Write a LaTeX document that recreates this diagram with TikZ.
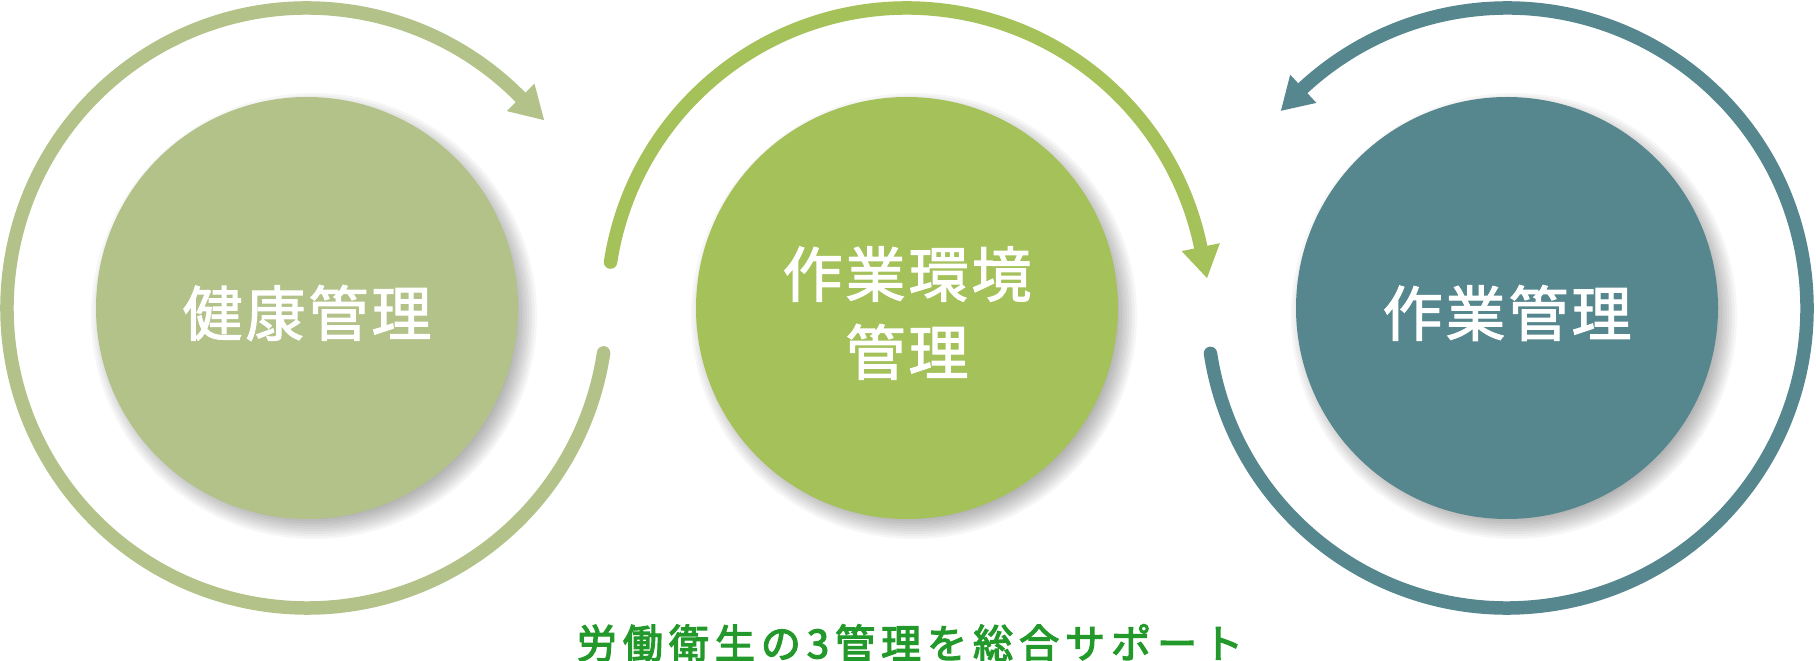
\documentclass[tikz,border=0pt]{standalone}
\usepackage{fontspec}
\newfontfamily\jpfont[LetterSpace=5,FakeBold=1.8]{Noto Sans CJK JP}
\newfontfamily\jpcap[LetterSpace=15,FakeBold=3.2]{Noto Sans CJK JP}
\definecolor{cA}{HTML}{B2C288}
\definecolor{cB}{HTML}{A5C159}
\definecolor{cC}{HTML}{56878E}
\definecolor{cT}{HTML}{22992A}
\begin{document}
\begin{tikzpicture}[x=1pt,y=1pt,
  ring/.style={line width=13.5pt, line cap=round},
  disc/.style={circle, minimum size=422pt, inner sep=0pt},
  lbl/.style={text=white, inner sep=0pt, align=center,
    font=\jpfont\fontsize{60}{78}\selectfont},
  capt/.style={text=cT, font=\jpcap\fontsize{40}{44}\selectfont}]
\useasboundingbox (0,0) rectangle (1816,661);
\fill[white] (0,0) rectangle (1816,661);
% soft shadows
\foreach \cx in {307,907,1507}{
  \foreach \k in {0,...,8}{
    \fill[black,opacity=0.035] (\cx+7,345) circle ({203+\k*2.5});
  }
}
\node[disc, fill=cA] (health) at (307,353) {};
\node[disc, fill=cB] (env) at (907,353) {};
\node[disc, fill=cC] (work) at (1507,353) {};
\node[lbl] (healthT) at ([yshift=-5pt]health.center) {健康管理};
\node[lbl] (envT) at ([yshift=-5pt]env.center) {作業環境\\管理};
\node[lbl] (workT) at ([yshift=-5pt]work.center) {作業管理};
% cycle arcs with arrowheads
\draw[ring, cA] (health.center) ++(-8.6:300) arc[start angle=-8.6, end angle=-315.4, radius=300];
\fill[cA] ([shift={(44.6:319.5)}]health.center) -- ([shift={(38.4:302.5)}]health.center) -- ([shift={(44.6:280.5)}]health.center) -- cycle;
\draw[ring, cB] (env.center) ++(171.2:300) arc[start angle=171.2, end angle=11.7, radius=300];
\fill[cB] ([shift={(11.7:319.5)}]env.center) -- ([shift={(5.7:301.5)}]env.center) -- ([shift={(11.7:280.5)}]env.center) -- cycle;
\draw[ring, cC] (work.center) ++(188.7:300) arc[start angle=188.7, end angle=492.9, radius=300];
\fill[cC] ([shift={(132.9:318.5)}]work.center) -- ([shift={(138.9:300)}]work.center) -- ([shift={(132.9:280)}]work.center) -- cycle;
\node[capt] (caption) at (910,18) {労働衛生の3管理を総合サポート};
\end{tikzpicture}
\end{document}
